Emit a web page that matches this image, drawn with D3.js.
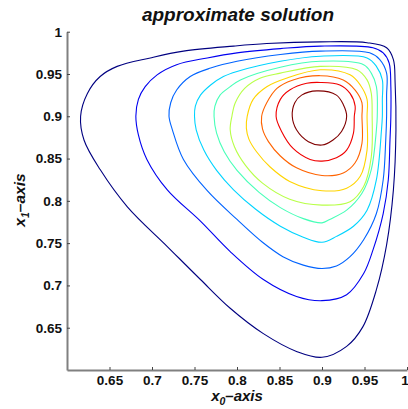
<!DOCTYPE html>
<html><head><meta charset="utf-8">
<script src="https://cdn.jsdelivr.net/npm/d3@7"></script>
<style>body{margin:0;background:#fff} svg{display:block}</style>
</head><body><svg id="c" width="408" height="409"></svg>
<script>
const xTicks = [0.65, 0.7, 0.75, 0.8, 0.85, 0.9, 0.95, 1];
const xTickLabels = ["0.65","0.7","0.75","0.8","0.85","0.9","0.95","1"];
const yTicks = [0.65, 0.7, 0.75, 0.8, 0.85, 0.9, 0.95, 1];
const yTickLabels = ["0.65","0.7","0.75","0.8","0.85","0.9","0.95","1"];
const levelColors = ["#000080","#0000f0","#0063ff","#00d4ff","#47ffb8","#b8ff47","#ffd400","#ff6300","#f00000","#800000"];

const contour1 = [[0.616,0.900],[0.624,0.927],[0.639,0.947],[0.659,0.959],[0.698,0.969],[0.737,0.977],[0.796,0.983],[0.835,0.986],[0.898,0.988],[0.953,0.987],[0.976,0.981],[0.984,0.967],[0.986,0.940],[0.987,0.884],[0.984,0.813],[0.976,0.748],[0.964,0.695],[0.948,0.651],[0.929,0.628],[0.900,0.615],[0.870,0.622],[0.831,0.643],[0.792,0.673],[0.757,0.707],[0.718,0.746],[0.671,0.793],[0.639,0.837],[0.620,0.872]];
const contour2 = [[0.681,0.900],[0.684,0.920],[0.692,0.935],[0.706,0.949],[0.729,0.961],[0.765,0.969],[0.800,0.975],[0.851,0.980],[0.898,0.983],[0.960,0.981],[0.972,0.975],[0.979,0.963],[0.981,0.935],[0.981,0.900],[0.980,0.872],[0.978,0.825],[0.972,0.785],[0.960,0.742],[0.949,0.714],[0.929,0.689],[0.900,0.682],[0.870,0.687],[0.831,0.707],[0.792,0.740],[0.757,0.776],[0.718,0.813],[0.694,0.849],[0.684,0.878]];
const contour3 = [[0.720,0.900],[0.722,0.916],[0.729,0.931],[0.745,0.947],[0.769,0.957],[0.800,0.965],[0.851,0.973],[0.898,0.977],[0.956,0.975],[0.968,0.967],[0.976,0.951],[0.976,0.925],[0.976,0.900],[0.975,0.872],[0.972,0.825],[0.964,0.785],[0.949,0.754],[0.933,0.734],[0.917,0.723],[0.900,0.720],[0.878,0.724],[0.854,0.734],[0.830,0.751],[0.800,0.778],[0.765,0.812],[0.737,0.849],[0.724,0.884]];
const contour4 = [[0.750,0.900],[0.751,0.912],[0.757,0.925],[0.769,0.937],[0.784,0.947],[0.800,0.953],[0.851,0.965],[0.898,0.971],[0.953,0.969],[0.964,0.959],[0.971,0.943],[0.971,0.920],[0.971,0.900],[0.970,0.884],[0.964,0.825],[0.953,0.789],[0.937,0.770],[0.917,0.758],[0.900,0.751],[0.878,0.757],[0.851,0.770],[0.822,0.790],[0.796,0.813],[0.776,0.836],[0.761,0.860],[0.752,0.884]];
const contour5 = [[0.773,0.900],[0.774,0.912],[0.780,0.925],[0.792,0.935],[0.804,0.943],[0.851,0.958],[0.898,0.965],[0.949,0.961],[0.958,0.951],[0.964,0.935],[0.965,0.900],[0.964,0.884],[0.958,0.837],[0.947,0.809],[0.929,0.789],[0.909,0.778],[0.900,0.774],[0.878,0.779],[0.851,0.792],[0.826,0.810],[0.800,0.836],[0.785,0.858],[0.776,0.880]];
const contour6 = [[0.794,0.900],[0.798,0.916],[0.809,0.933],[0.827,0.945],[0.851,0.951],[0.898,0.959],[0.941,0.955],[0.953,0.943],[0.958,0.927],[0.959,0.900],[0.958,0.852],[0.949,0.817],[0.933,0.799],[0.900,0.795],[0.862,0.802],[0.830,0.821],[0.810,0.842],[0.797,0.864],[0.792,0.884]];
const contour7 = [[0.812,0.900],[0.819,0.920],[0.835,0.935],[0.858,0.945],[0.898,0.955],[0.933,0.949],[0.945,0.937],[0.953,0.920],[0.953,0.900],[0.953,0.860],[0.945,0.829],[0.929,0.815],[0.900,0.812],[0.862,0.823],[0.839,0.840],[0.823,0.858],[0.814,0.873],[0.811,0.886]];
const contour8 = [[0.829,0.900],[0.835,0.916],[0.847,0.933],[0.866,0.943],[0.898,0.948],[0.925,0.943],[0.939,0.931],[0.947,0.916],[0.947,0.900],[0.947,0.868],[0.939,0.845],[0.925,0.833],[0.900,0.830],[0.870,0.839],[0.851,0.853],[0.837,0.870],[0.830,0.885]];
const contour9 = [[0.846,0.900],[0.851,0.920],[0.862,0.931],[0.882,0.939],[0.898,0.940],[0.921,0.937],[0.933,0.927],[0.939,0.912],[0.938,0.900],[0.937,0.880],[0.929,0.860],[0.917,0.851],[0.900,0.847],[0.886,0.849],[0.866,0.862],[0.852,0.883]];
const contour10 = [[0.865,0.900],[0.868,0.916],[0.876,0.925],[0.894,0.930],[0.917,0.925],[0.925,0.914],[0.929,0.900],[0.923,0.882],[0.913,0.872],[0.900,0.866],[0.884,0.870],[0.870,0.884]];
const contours = [contour1,contour2,contour3,contour4,contour5,contour6,contour7,contour8,contour9,contour10];

const svg = d3.select("#c");
const x = d3.scaleLinear().domain([0.6, 1]).range([67, 407]);
const y = d3.scaleLinear().domain([0.6, 1]).range([370, 31.7]);

const line = d3.line().x(d => x(d[0])).y(d => y(d[1])).curve(d3.curveCatmullRomClosed.alpha(0.5));
svg.append("g").selectAll("path").data(contours).join("path")
  .attr("d", d => line(d)).attr("fill", "none")
  .attr("stroke", (d, i) => levelColors[i]).attr("stroke-width", 1.1);

const font = "'Liberation Sans', Arial, Helvetica, sans-serif";
const xAxis = svg.append("g").attr("transform", "translate(0,370)")
  .call(d3.axisBottom(x).tickValues(xTicks).tickFormat((d, i) => xTickLabels[i]).tickSize(-3).tickSizeOuter(0).tickPadding(5));
const yAxis = svg.append("g").attr("transform", "translate(67,0)")
  .call(d3.axisLeft(y).tickValues(yTicks).tickFormat((d, i) => yTickLabels[i]).tickSize(-3).tickSizeOuter(0).tickPadding(5));
[xAxis, yAxis].forEach(g => {
  g.select(".domain").attr("stroke", "#808080").attr("stroke-width", 2);
  g.selectAll(".tick line").attr("stroke", "#444").attr("stroke-width", 1);
  g.selectAll(".tick text").attr("font-family", font).attr("font-weight", "bold").attr("font-size", "13.5px").attr("fill", "#111");
});
xAxis.selectAll(".tick text").attr("dy", "0.71em");
// last x tick label sits at the right edge: align its end with the window edge
xAxis.selectAll(".tick text").filter((d, i) => i === xTicks.length - 1)
  .attr("text-anchor", "end").attr("dx", 1.3);

svg.append("text").attr("x", 238).attr("y", 21).attr("text-anchor", "middle")
  .attr("font-family", font).attr("font-weight", "bold").attr("font-style", "italic").attr("font-size", "19px").attr("fill", "#111")
  .text("approximate solution");

const xl = svg.append("text").attr("x", 237).attr("y", 401.3).attr("text-anchor", "middle")
  .attr("font-family", font).attr("font-weight", "bold").attr("font-style", "italic").attr("font-size", "15px").attr("fill", "#111");
xl.append("tspan").text("x");
xl.append("tspan").attr("dy", 3.5).attr("font-size", "10.5px").text("0");
xl.append("tspan").attr("dy", -3.5).text("\u2013axis");

const yl = svg.append("text").attr("transform", "translate(25,200) rotate(-90)").attr("text-anchor", "middle")
  .attr("font-family", font).attr("font-weight", "bold").attr("font-style", "italic").attr("font-size", "15.5px").attr("fill", "#111");
yl.append("tspan").text("x");
yl.append("tspan").attr("dy", 4).attr("font-size", "10.5px").text("1");
yl.append("tspan").attr("dy", -4).text("\u2013axis");
</script></body></html>
